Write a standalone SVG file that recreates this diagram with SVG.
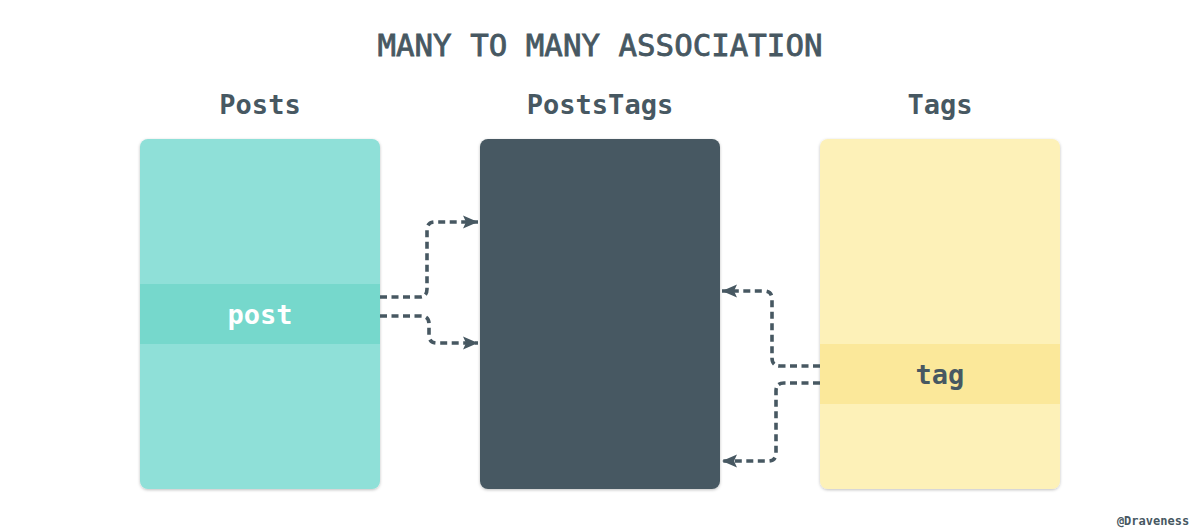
<svg xmlns="http://www.w3.org/2000/svg" width="1200" height="530" viewBox="0 0 1200 530">
<style>
text{font-family:"DejaVu Sans Mono","Liberation Mono",monospace;fill:#475862;text-anchor:middle}
.title{font-size:30.8px;stroke:#475862;stroke-width:0.8}
.hdr{font-size:27px;font-weight:bold}
.fld{font-size:27px;font-weight:bold}
.conn{fill:none;stroke:#475862;stroke-width:3.6;stroke-dasharray:7 4.5}
</style>
<defs>
<filter id="sh" x="-10%" y="-10%" width="120%" height="120%">
<feDropShadow dx="0" dy="1" stdDeviation="1.5" flood-color="#000" flood-opacity="0.25"/>
</filter>
<marker id="ah" markerUnits="userSpaceOnUse" markerWidth="16" markerHeight="14" refX="15" refY="7" orient="auto">
<path d="M0,0.5 L15,7 L0,13.5 L3,7 z" fill="#475862"/>
</marker>
<clipPath id="c1"><rect x="140" y="139" width="240" height="350" rx="8"/></clipPath>
<clipPath id="c3"><rect x="820" y="139" width="240" height="350" rx="8"/></clipPath>
</defs>
<rect width="1200" height="530" fill="#fff"/>
<text class="title" x="600" y="56">MANY TO MANY ASSOCIATION</text>
<g id="posts">
<text class="hdr" x="260" y="114">Posts</text>
<rect x="140" y="139" width="240" height="350" rx="8" fill="#8FE0D8" filter="url(#sh)"/>
<rect x="140" y="284" width="240" height="60" fill="#76D8CC" clip-path="url(#c1)"/>
<text class="fld" x="260" y="324" style="fill:#fff">post</text>
</g>
<g id="poststags">
<text class="hdr" x="600" y="114">PostsTags</text>
<rect x="480" y="139" width="240" height="350" rx="8" fill="#475862" filter="url(#sh)"/>
</g>
<g id="tags">
<text class="hdr" x="940" y="114">Tags</text>
<rect x="820" y="139" width="240" height="350" rx="8" fill="#FDF1B8" filter="url(#sh)"/>
<rect x="820" y="344" width="240" height="60" fill="#FBE89A" clip-path="url(#c3)"/>
<text class="fld" x="940" y="384">tag</text>
</g>
<g id="connectors">
<path class="conn" d="M380,297 H419 Q427,297 427,289 V230 Q427,222 435,222 H478" marker-end="url(#ah)"/>
<path class="conn" d="M380,316 H421 Q429,316 429,324 V335 Q429,343 437,343 H478" marker-end="url(#ah)"/>
<path class="conn" d="M820,366 H780 Q772,366 772,358 V299 Q772,291 764,291 H722" marker-end="url(#ah)"/>
<path class="conn" d="M820,383 H784 Q776,383 776,391 V453 Q776,461 768,461 H722" marker-end="url(#ah)"/>
</g>
<text x="1153" y="525" style="font-size:12px;font-weight:bold">@Draveness</text>
</svg>
